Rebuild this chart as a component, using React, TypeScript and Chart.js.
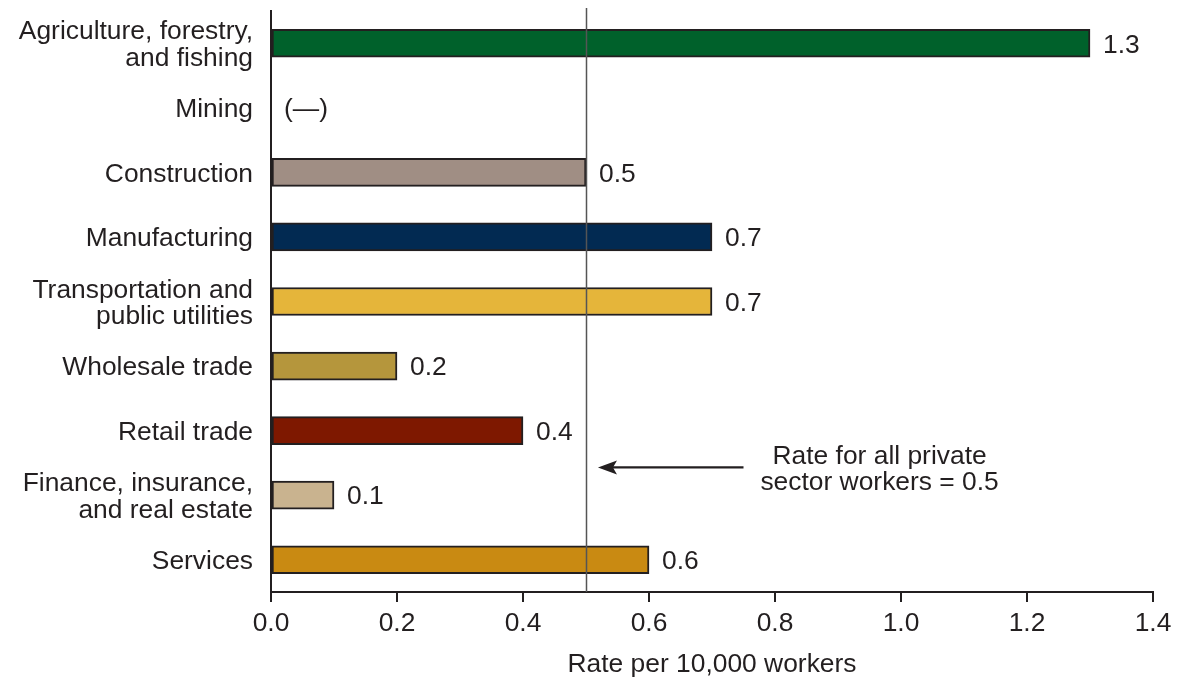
import React, { useEffect, useRef } from "react";
import { Chart, registerables } from "chart.js";

Chart.register(...registerables);

const categories: (string | string[])[] = [
  ["Agriculture, forestry,", "and fishing"],
  "Mining",
  "Construction",
  "Manufacturing",
  ["Transportation and", "public utilities"],
  "Wholesale trade",
  "Retail trade",
  ["Finance, insurance,", "and real estate"],
  "Services",
];
const rates: (number | null)[] = [1.3, null, 0.5, 0.7, 0.7, 0.2, 0.4, 0.1, 0.6];
const valueLabels = ["1.3", "(\u2014)", "0.5", "0.7", "0.7", "0.2", "0.4", "0.1", "0.6"];
const barColors = [
  "#00612B",
  "#FFFFFF",
  "#A08E84",
  "#022A52",
  "#E5B53A",
  "#B5963C",
  "#7E1800",
  "#C9B38F",
  "#C98A12",
];
const xTickValues = [0, 0.2, 0.4, 0.6, 0.8, 1.0, 1.2, 1.4];
const privateSectorRate = 0.5;
const annotationLines = ["Rate for all private", "sector workers = 0.5"];
const axisTitle = "Rate per 10,000 workers";

const FONT = "'Liberation Sans', Arial, Helvetica, sans-serif";
const FS = 26.4;
const INK = "#231F20";

const overlayPlugin = {
  id: "overlay",
  afterDatasetsDraw(chart: any) {
    const { ctx, chartArea, scales } = chart;
    const x = scales.x;
    const y = scales.y;
    ctx.save();
    // reference line
    const rx = Math.round(x.getPixelForValue(privateSectorRate)) + 0.5;
    ctx.strokeStyle = "#555555";
    ctx.lineWidth = 1.5;
    ctx.beginPath();
    ctx.moveTo(rx, chartArea.top - 3);
    ctx.lineTo(rx, chartArea.bottom);
    ctx.stroke();

    // value labels
    ctx.font = `${FS}px ${FONT}`;
    ctx.fillStyle = INK;
    ctx.textAlign = "left";
    ctx.textBaseline = "middle";
    valueLabels.forEach((lab, i) => {
      const v = rates[i] ?? 0;
      const px = x.getPixelForValue(v) + 13;
      const py = y.getPixelForValue(i);
      ctx.fillText(lab, px, py + 2);
    });

    // annotation arrow
    const ay = y.getPixelForValue(6.57);
    const tipX = x.getPixelForValue(0.519);
    const tailX = x.getPixelForValue(0.75);
    ctx.strokeStyle = INK;
    ctx.lineWidth = 2.2;
    ctx.beginPath();
    ctx.moveTo(tailX, ay);
    ctx.lineTo(tipX + 10, ay);
    ctx.stroke();
    ctx.fillStyle = INK;
    ctx.beginPath();
    ctx.moveTo(tipX, ay);
    ctx.lineTo(tipX + 19, ay - 7);
    ctx.lineTo(tipX + 15, ay);
    ctx.lineTo(tipX + 19, ay + 7);
    ctx.closePath();
    ctx.fill();

    // annotation text
    const tx = x.getPixelForValue(0.966);
    ctx.textAlign = "center";
    ctx.fillText(annotationLines[0], tx, ay - 11);
    ctx.fillText(annotationLines[1], tx, ay + 15);
    ctx.restore();
  },
};

export default function App() {
  const canvasRef = useRef<HTMLCanvasElement | null>(null);

  useEffect(() => {
    const canvas = canvasRef.current;
    if (!canvas) return;
    const chart = new Chart(canvas, {
      type: "bar",
      data: {
        labels: categories,
        datasets: [
          {
            data: rates,
            backgroundColor: barColors,
            borderColor: INK,
            borderWidth: 2,
            borderSkipped: false,
            barThickness: 28,
          },
        ],
      },
      options: {
        indexAxis: "y",
        responsive: false,
        animation: false,
        devicePixelRatio: 1,
        layout: { padding: { top: 11, right: 39, left: 0, bottom: 0 } },
        plugins: {
          legend: { display: false },
          tooltip: { enabled: false },
        },
        scales: {
          x: {
            type: "linear",
            min: 0,
            max: 1.4,
            afterBuildTicks: (scale: any) => {
              scale.ticks = xTickValues.map((v) => ({ value: v }));
            },
            afterFit: (scale: any) => {
              scale.height = 87;
              scale.paddingLeft = 0;
              scale.paddingRight = 0;
            },
            ticks: {
              color: INK,
              font: { family: FONT, size: FS },
              padding: 6,
              callback: (v: any) => Number(v).toFixed(1),
            },
            grid: {
              drawOnChartArea: false,
              drawTicks: true,
              tickLength: 10,
              color: INK,
              lineWidth: 2,
            },
            border: { display: true, color: INK, width: 2 },
            title: {
              display: true,
              text: axisTitle,
              color: INK,
              font: { family: FONT, size: FS },
              padding: { top: 0, bottom: -2 },
            },
          },
          y: {
            type: "category",
            afterFit: (scale: any) => {
              scale.width = 271;
              scale.paddingTop = 0;
              scale.paddingBottom = 0;
            },
            ticks: {
              color: INK,
              font: { family: FONT, size: FS, lineHeight: 1.0 },
              padding: 18,
              labelOffset: 2,
            },
            grid: { display: false, drawTicks: false },
            border: { display: true, color: INK, width: 2 },
          },
        },
      },
      plugins: [overlayPlugin],
    } as any);
    return () => chart.destroy();
  }, []);

  return (
    <div style={{ position: "fixed", left: 0, top: 0, width: 1192, height: 679, background: "#fff" }}>
      <canvas ref={canvasRef} width={1192} height={679} style={{ width: 1192, height: 679, display: "block" }} />
    </div>
  );
}
